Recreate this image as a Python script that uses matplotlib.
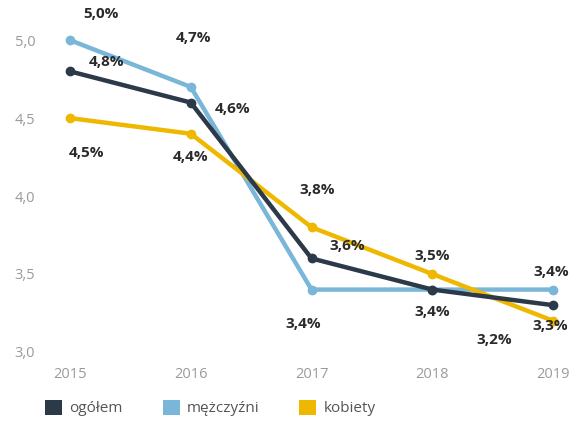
import matplotlib.pyplot as plt
from matplotlib.patches import Patch

plt.rcParams['font.family'] = ['Open Sans', 'DejaVu Sans']

years = [2015, 2016, 2017, 2018, 2019]
ogolem = [4.8, 4.6, 3.6, 3.4, 3.3]
mezczyzni = [5.0, 4.7, 3.4, 3.4, 3.4]
kobiety = [4.5, 4.4, 3.8, 3.5, 3.2]

series_names = ['ogółem', 'mężczyźni', 'kobiety']
colors = ['#2b3948', '#7ab6d8', '#efb800']
yticks = [3.0, 3.5, 4.0, 4.5, 5.0]

# label offsets (points) for each series/point
offsets = {
    'ogółem': [(26, 7), (30, -5), (26, 9), (0, -16), (-2, -15)],
    'mężczyźni': [(22, 19), (2, 35), (-6, -25), (0, 0), (-1, 13)],
    'kobiety': [(12, -25), (0, -17), (4, 27), (0, 13), (-42, -14)],
}

fig = plt.figure(figsize=(5.71, 4.23), dpi=100)
ax = fig.add_axes([0.1226, 0.168, 0.846, 0.737])

data = [ogolem, mezczyzni, kobiety]
for name, vals, c in zip(series_names, data, colors):
    ax.plot(years, vals, color=c, lw=3.2, marker='o', ms=6,
            solid_joinstyle='round', clip_on=False, zorder=3)

# draw ogółem on top like in the original
ax.lines[0].set_zorder(4)

for name, vals in zip(series_names, data):
    for i, (x, v) in enumerate(zip(years, vals)):
        if name == 'mężczyźni' and x == 2018:
            continue
        dx, dy = offsets[name][i]
        ax.annotate(f'{v:.1f}%'.replace('.', ','), (x, v),
                    xytext=(dx, dy), textcoords='offset points',
                    ha='center', va='center', fontsize=11,
                    fontweight='bold', color='#2a2a2a', zorder=5)

ax.set_xlim(2015, 2019)
ax.set_ylim(3.0, 5.0)
ax.set_xticks(years)
ax.set_xticklabels([str(y) for y in years])
ax.set_yticks(yticks)
ax.set_yticklabels([f'{t:.1f}'.replace('.', ',') for t in yticks])
ax.tick_params(length=0, labelsize=10.5, labelcolor='#9a9a9a')
ax.tick_params(axis='y', pad=25)
ax.tick_params(axis='x', pad=11)
for s in ax.spines.values():
    s.set_visible(False)

handles = [Patch(facecolor=c, edgecolor='none') for c in colors]
fig.legend(handles, series_names, loc='center left',
           bbox_to_anchor=(0.055, 0.035), ncol=3, frameon=False,
           handlelength=1.1, handleheight=1.1, handletextpad=0.5,
           columnspacing=2.6, fontsize=11, labelcolor='#555555')

fig.savefig('out.png', dpi=100)
